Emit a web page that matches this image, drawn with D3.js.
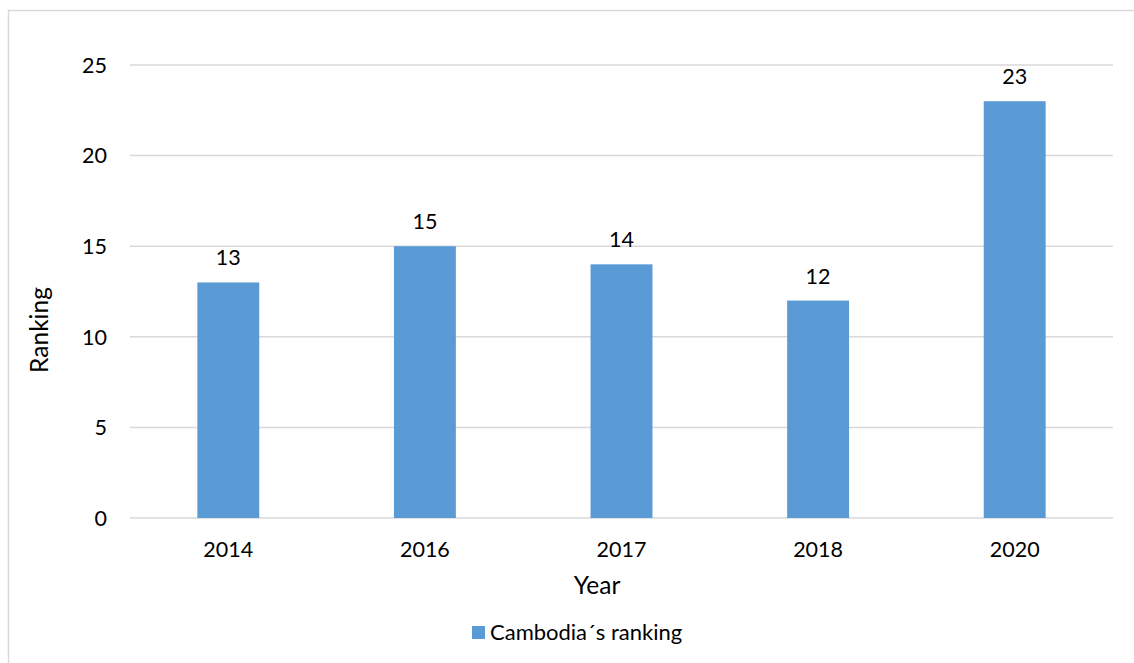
<!DOCTYPE html>
<html><head><meta charset="utf-8">
<script src="https://cdn.jsdelivr.net/npm/d3@7"></script>
<style>body{margin:0;background:#fff}svg{display:block}text{font-family:Lato,"Open Sans",sans-serif;fill:#000}</style>
</head><body>
<svg id="c" width="1134" height="663"></svg>
<script>
const categories = ["2014","2016","2017","2018","2020"];
const values = [13,15,14,12,23];
const yTicks = [0,5,10,15,20,25];
const seriesName = "Cambodia\u00B4s ranking";

const svg = d3.select("#c");
svg.append("rect").attr("x",8.5).attr("y",10.5).attr("width",1140).attr("height",670)
  .attr("fill","#fff").attr("stroke","#d9d9d9").attr("stroke-width",1.5);

const x = d3.scaleBand().domain(categories).range([130,1113]).paddingInner(0.685).paddingOuter(0.3425);
const y = d3.scaleLinear().domain([0,25]).range([518,65]);

const g = svg.append("g");
g.selectAll("line.grid").data(yTicks).join("line").attr("class","grid")
  .attr("x1",130).attr("x2",1113).attr("y1",d=>y(d)).attr("y2",d=>y(d))
  .attr("stroke","#d9d9d9").attr("stroke-width",1.5);

g.selectAll("text.yt").data(yTicks).join("text").attr("class","yt")
  .attr("x",107).attr("y",d=>y(d)).attr("dy","0.36em").attr("text-anchor","end")
  .attr("font-size",21.5).text(d=>d);

g.selectAll("rect.bar").data(values).join("rect").attr("class","bar")
  .attr("x",(d,i)=>x(categories[i])).attr("width",x.bandwidth())
  .attr("y",d=>y(d)).attr("height",d=>y(0)-y(d)).attr("fill","#5b9bd5");

g.selectAll("text.lbl").data(values).join("text").attr("class","lbl")
  .attr("x",(d,i)=>x(categories[i])+x.bandwidth()/2).attr("y",d=>y(d)-17)
  .attr("text-anchor","middle").attr("font-size",21.5).text(d=>d);

g.selectAll("text.xt").data(categories).join("text").attr("class","xt")
  .attr("x",d=>x(d)+x.bandwidth()/2).attr("y",557).attr("text-anchor","middle")
  .attr("font-size",21.5).text(d=>d);

svg.append("text").attr("x",597).attr("y",594).attr("text-anchor","middle")
  .attr("font-size",24.5).text("Year");
svg.append("text").attr("transform","translate(48,330) rotate(-90)").attr("text-anchor","middle")
  .attr("font-size",24.5).text("Ranking");

svg.append("rect").attr("x",472).attr("y",626).attr("width",13).attr("height",13).attr("fill","#5b9bd5");
svg.append("text").attr("x",490).attr("y",640).attr("font-size",22).text(seriesName);
</script>
</body></html>
